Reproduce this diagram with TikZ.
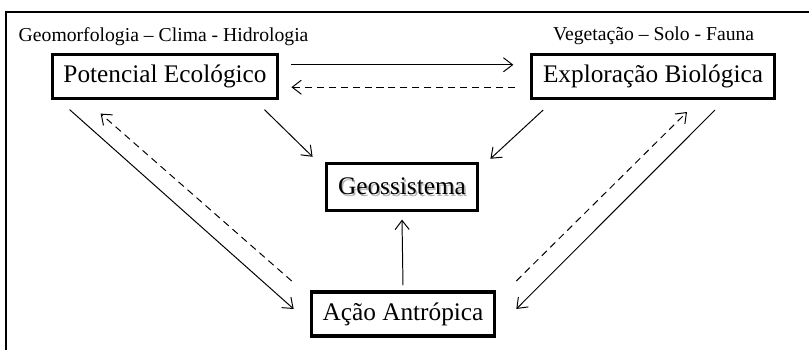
\documentclass[tikz,border=0pt]{standalone}
\usepackage{fontspec}
\setmainfont{Liberation Serif}
\usetikzlibrary{arrows.meta}
\newcommand{\textosombra}[1]{\makebox[0pt][l]{\raisebox{-1.2pt}{\hspace{1.2pt}\textcolor{black!30}{#1}}}#1}
\begin{document}
\begin{tikzpicture}[caixa/.style={draw,line width=2.3pt,rectangle,inner xsep=8pt,minimum height=1.1cm,font=\fontsize{18}{20}\selectfont},
        rotulo/.style={font=\fontsize{14}{16}\selectfont},
        seta/.style={line width=0.7pt,-{Straight Barb[length=6.5pt,width=10pt]}},
        tracejada/.style={seta,dash pattern=on 5pt off 3.5pt}]
        \useasboundingbox (0,0) rectangle (20.225,8.75);
        \draw[line width=1.4pt] (0.15,0) -- (0.15,8.45) -- (20.225,8.45);
        \node[caixa] at (4.125,6.83) (pe) {Potencial Ecológico};
        \node[caixa] at (16.325,6.83) (eb) {Exploração Biológica};
        \node[caixa,minimum height=1.17cm] at (10.05,4.07) (geo) {\textosombra{Geossistema}};
        \node[caixa] at (10.075,0.9) (acao) {Ação Antrópica};
        \node[rotulo] at (4.09,7.82) (fisico) {Geomorfologia -- Clima - Hidrologia};
        \node[rotulo] at (16.34,7.85) (bio) {Vegetação -- Solo - Fauna};
        \draw[seta] ([shift={(0.3,0.3)}]pe.east) -- ([shift={(-0.42,0.3)}]eb.west);
        \draw[tracejada] ([shift={(-0.38,-0.26)}]eb.west) -- ([shift={(0.3,-0.26)}]pe.east);
        \draw[seta] ([shift={(0.475,-0.23)}]pe.south west) -- ([shift={(-0.4,0.125)}]acao.west);
        \draw[tracejada] ([shift={(-0.45,0.825)}]acao.west) -- ([shift={(1.25,-0.33)}]pe.south west);
        \draw[seta] ([shift={(-0.375,-0.23)}]pe.south east) -- ([shift={(-0.315,0.135)}]geo.north west);
        \draw[seta] ([shift={(0.325,-0.24)}]eb.south west) -- ([shift={(0.29,0.085)}]geo.north east);
        \draw[tracejada] ([shift={(0.5,0.825)}]acao.east) -- ([shift={(0.85,-0.29)}]eb.south);
        \draw[seta] ([shift={(1.55,-0.24)}]eb.south) -- ([shift={(0.5,0.125)}]acao.east);
        \draw[seta] ([yshift=0.125cm]acao.north) -- ([yshift=-0.185cm]geo.south);
    \end{tikzpicture}
\end{document}
